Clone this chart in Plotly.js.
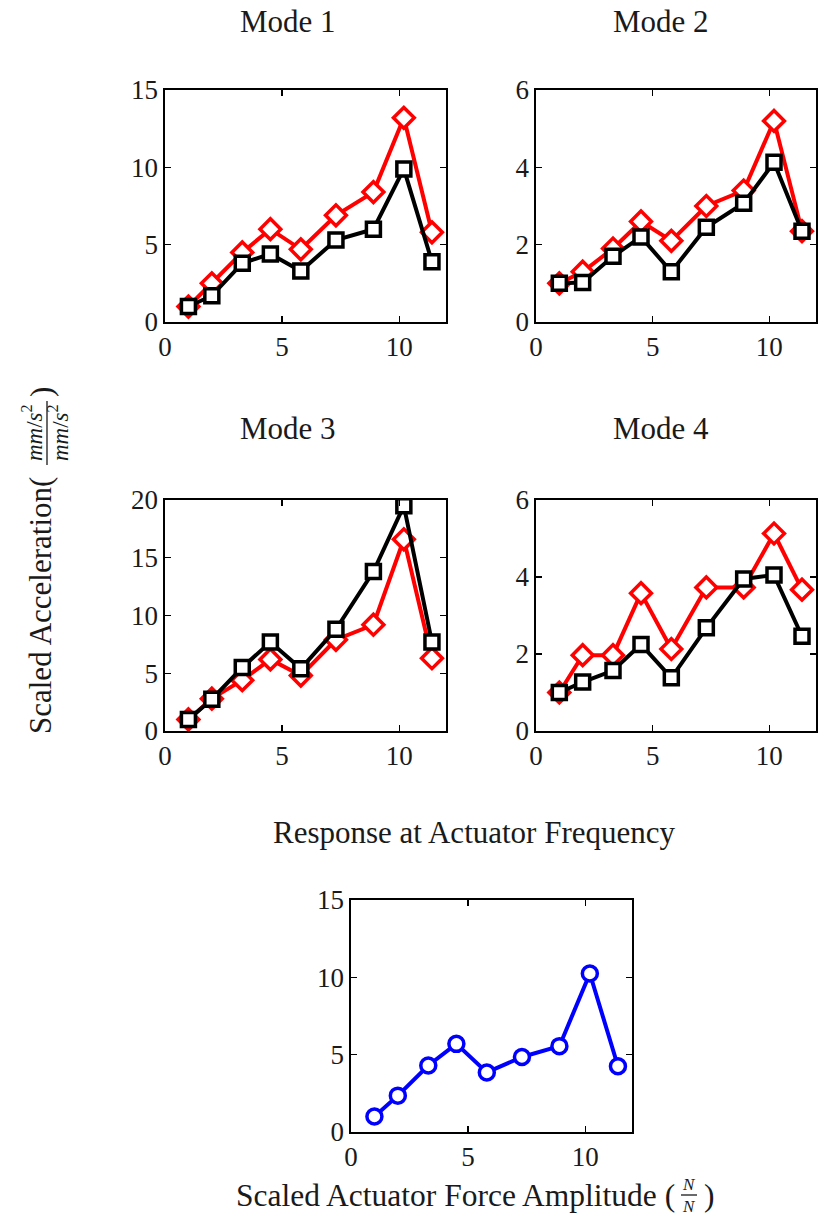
<!DOCTYPE html>
<html>
<head>
<meta charset="utf-8">
<script src="https://cdn.plot.ly/plotly-3.0.1.min.js"></script>
<style>
  html, body { margin: 0; padding: 0; background: #fff; }
  #chart { width: 821px; height: 1218px; }
</style>
</head>
<body>
<div id="chart"></div>
<script>
// Scaled actuator force amplitude (N/N), shared x values of every panel
const forceAmp = [1.0, 2.0, 3.3, 4.5, 5.8, 7.3, 8.9, 10.2, 11.4];

// Scaled acceleration per mode (red diamonds / black squares)
const mode1Red   = [1.0, 2.5, 4.5, 6.0, 4.7, 6.9, 8.4, 13.2, 5.8];
const mode1Black = [1.0, 1.7, 3.8, 4.4, 3.3, 5.3, 6.0, 9.9, 3.9];
const mode2Red   = [1.0, 1.3, 1.9, 2.6, 2.1, 3.0, 3.4, 5.2, 2.35];
const mode2Black = [1.0, 1.02, 1.7, 2.2, 1.3, 2.45, 3.07, 4.13, 2.35];
const mode3Red   = [1.0, 2.8, 4.4, 6.2, 4.8, 7.9, 9.2, 16.6, 6.3];
const mode3Black = [1.0, 2.75, 5.5, 7.7, 5.4, 8.8, 13.8, 19.5, 7.7];
const mode4Red   = [1.0, 1.97, 1.97, 3.58, 2.13, 3.73, 3.73, 5.13, 3.67];
const mode4Black = [1.0, 1.27, 1.57, 2.25, 1.38, 2.68, 3.95, 4.05, 2.46];

// Response at actuator frequency
const actuatorResp = [1.0, 2.35, 4.3, 5.7, 3.85, 4.85, 5.55, 10.25, 4.25];

// Tick labels
const xTicks = [0, 5, 10];
const yTicks15 = [0, 5, 10, 15];
const yTicks6 = [0, 2, 4, 6];
const yTicks20 = [0, 5, 10, 15, 20];

const panelTitles = ['Mode 1', 'Mode 2', 'Mode 3', 'Mode 4', 'Response at Actuator Frequency'];

const W = 821, H = 1218;
const px = v => v / W;          // pixel column -> paper x
const py = v => 1 - v / H;      // pixel row -> paper y

const SERIF = 'Liberation Serif, Times New Roman, serif';
const TXT = '#1a1a1a';

function redTrace(y, xa, ya) {
  return {
    x: forceAmp, y: y, xaxis: xa, yaxis: ya, type: 'scatter', mode: 'lines+markers',
    line: { color: '#ff0000', width: 4 },
    marker: { symbol: 'diamond', size: 16, color: '#ffffff', line: { color: '#ff0000', width: 3.5 } },
    hoverinfo: 'x+y'
  };
}
function blackTrace(y, xa, ya) {
  return {
    x: forceAmp, y: y, xaxis: xa, yaxis: ya, type: 'scatter', mode: 'lines+markers',
    line: { color: '#000000', width: 4 },
    marker: { symbol: 'square', size: 14, color: '#ffffff', line: { color: '#000000', width: 3.5 } },
    hoverinfo: 'x+y'
  };
}

const data = [
  redTrace(mode1Red, 'x', 'y'),   blackTrace(mode1Black, 'x', 'y'),
  redTrace(mode2Red, 'x2', 'y2'), blackTrace(mode2Black, 'x2', 'y2'),
  redTrace(mode3Red, 'x3', 'y3'), blackTrace(mode3Black, 'x3', 'y3'),
  redTrace(mode4Red, 'x4', 'y4'), blackTrace(mode4Black, 'x4', 'y4'),
  {
    x: forceAmp, y: actuatorResp, xaxis: 'x5', yaxis: 'y5', type: 'scatter', mode: 'lines+markers',
    line: { color: '#0000ff', width: 4 },
    marker: { symbol: 'circle', size: 15, color: '#ffffff', line: { color: '#0000ff', width: 3.5 } },
    hoverinfo: 'x+y'
  }
];

function axisBase() {
  return {
    showline: true, mirror: 'ticks', linecolor: '#000', linewidth: 1.6,
    ticks: 'inside', ticklen: 6, tickwidth: 1.2, tickcolor: '#000',
    showgrid: false, zeroline: false, fixedrange: true,
    tickfont: { family: SERIF, size: 27, color: TXT }
  };
}
function xAxis(left, right, anchor) {
  return Object.assign(axisBase(), {
    domain: [px(left), px(right)], range: [0, 12], tickmode: 'array',
    tickvals: xTicks, ticktext: xTicks.map(String), anchor: anchor
  });
}
function yAxis(top, bottom, ticks, anchor) {
  return Object.assign(axisBase(), {
    domain: [py(bottom), py(top)], range: [0, ticks[ticks.length - 1]], tickmode: 'array',
    tickvals: ticks, ticktext: ticks.map(String), anchor: anchor
  });
}

// Panel boxes in pixels: [left, right, top, bottom]
const L1 = 165, R1 = 446, L2 = 536, R2 = 816;
const T1 = 90, B1 = 322, T2 = 500, B2 = 731;
const L5 = 351, R5 = 632, T5 = 900, B5 = 1132;

function note(text, x, y, size, extra) {
  return Object.assign({
    text: text, x: px(x), y: py(y), xref: 'paper', yref: 'paper',
    xanchor: 'center', yanchor: 'middle', showarrow: false,
    font: { family: SERIF, size: size, color: TXT }
  }, extra || {});
}

const fracUnit = '<i>mm</i>/<i>s</i><sup>2</sup>';

const annotations = [
  note(panelTitles[0], 288, 22, 31),
  note(panelTitles[1], 661, 22, 31),
  note(panelTitles[2], 288, 428, 31),
  note(panelTitles[3], 661, 428, 31),
  note(panelTitles[4], 475, 832, 31),
  // x label of the bottom panel with a stacked N/N fraction
  note('Scaled Actuator Force Amplitude (', 455, 1195, 31.5),
  note('<i>N</i>', 689, 1184, 17),
  note('<i>N</i>', 689, 1206, 17),
  note(')', 709, 1195, 31.5),
  // shared y label, rotated, with a stacked (mm/s^2)/(mm/s^2) fraction
  note('Scaled Acceleration(', 41, 606, 31, { textangle: -90 }),
  note(fracUnit, 33, 433, 23, { textangle: -90 }),
  note(fracUnit, 59, 433, 23, { textangle: -90 }),
  note(')', 41, 392, 31, { textangle: -90 })
];

const shapes = [
  { type: 'line', xref: 'paper', yref: 'paper', x0: px(681), x1: px(697), y0: py(1195), y1: py(1195),
    line: { color: TXT, width: 1.3 } },
  { type: 'line', xref: 'paper', yref: 'paper', x0: px(47), x1: px(47), y0: py(401), y1: py(465),
    line: { color: TXT, width: 1.3 } }
];

const layout = {
  width: W, height: H, margin: { l: 0, r: 0, t: 0, b: 0 },
  paper_bgcolor: '#ffffff', plot_bgcolor: '#ffffff', showlegend: false,
  xaxis:  xAxis(L1, R1, 'y'),  yaxis:  yAxis(T1, B1, yTicks15, 'x'),
  xaxis2: xAxis(L2, R2, 'y2'), yaxis2: yAxis(T1, B1, yTicks6, 'x2'),
  xaxis3: xAxis(L1, R1, 'y3'), yaxis3: yAxis(T2, B2, yTicks20, 'x3'),
  xaxis4: xAxis(L2, R2, 'y4'), yaxis4: yAxis(T2, B2, yTicks6, 'x4'),
  xaxis5: xAxis(L5, R5, 'y5'), yaxis5: yAxis(T5, B5, yTicks15, 'x5'),
  annotations: annotations, shapes: shapes
};

Plotly.newPlot('chart', data, layout, { displayModeBar: false, staticPlot: true });
</script>
</body>
</html>
